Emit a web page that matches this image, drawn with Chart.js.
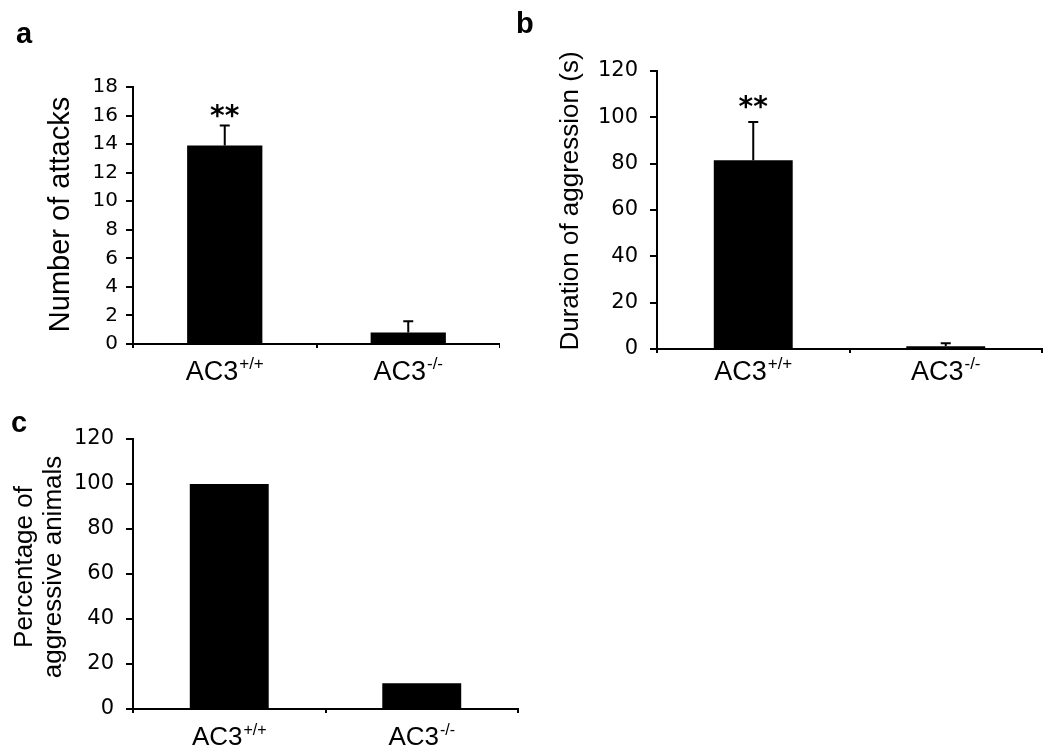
<!DOCTYPE html>
<html>
<head>
<meta charset="utf-8">
<script src="https://cdn.jsdelivr.net/npm/chart.js@4.4.0/dist/chart.umd.min.js"></script>
<style>
  body { margin: 0; background: #fff; }
  #wrap { position: relative; width: 1050px; height: 755px; }
  canvas { position: absolute; }
</style>
</head>
<body>
<div id="wrap">
  <canvas id="chartA" width="500" height="400" style="left:0;top:0;width:500px;height:400px"></canvas>
  <canvas id="chartB" width="550" height="400" style="left:500px;top:0;width:550px;height:400px"></canvas>
  <canvas id="chartC" width="530" height="355" style="left:0;top:400px;width:530px;height:355px"></canvas>
</div>
<script>
// genotypes on the x axis (base name + superscript)
const genotypeBase = ['AC3', 'AC3'];
const genotypeSup = ['+/+', '-/-'];

// panel a: number of attacks (mean, SEM)
const attacks = [13.9, 0.8];
const attacksErr = [1.4, 0.8];
// panel b: duration of aggression in seconds (mean, SEM)
const duration = [81.5, 1.2];
const durationErr = [16.5, 1.3];
// panel c: percentage of aggressive animals
const aggressivePct = [100, 11.5];

// significance marks above each bar
const sigA = ['**', ''];
const sigB = ['**', ''];

// y tick settings
const yTicksA = { max: 18, step: 2 };
const yTicksB = { max: 120, step: 20 };
const yTicksC = { max: 120, step: 20 };

// draws error bars, stars, x labels, axis title and the panel letter
const decorations = {
  id: 'decorations',
  afterDatasetsDraw(chart, args, opts) {
    const { ctx, chartArea } = chart;
    const x = chart.scales.x, y = chart.scales.y;
    const values = chart.data.datasets[0].data;
    ctx.save();
    ctx.fillStyle = '#000';
    ctx.strokeStyle = '#000';

    values.forEach((v, i) => {
      const cx = x.getPixelForValue(i);
      let topY = y.getPixelForValue(v);
      if (opts.errors) {
        const ey = y.getPixelForValue(v + opts.errors[i]);
        ctx.lineWidth = 2;
        ctx.beginPath();
        ctx.moveTo(cx, topY);
        ctx.lineTo(cx, ey);
        ctx.moveTo(cx - 5, ey);
        ctx.lineTo(cx + 5, ey);
        ctx.stroke();
        topY = ey;
      }
      if (opts.sig && opts.sig[i]) {
        ctx.font = 'bold 28px "DejaVu Sans"';
        ctx.textAlign = 'center';
        ctx.textBaseline = 'alphabetic';
        ctx.fillText(opts.sig[i], cx, topY - opts.sigGap + 16);
      }
      // x label with superscript
      const base = genotypeBase[i], sup = genotypeSup[i];
      const supSize = Math.round(opts.labelSize * 0.62);
      ctx.textAlign = 'left';
      ctx.textBaseline = 'alphabetic';
      ctx.font = opts.labelSize + 'px "Liberation Sans"';
      const wb = ctx.measureText(base).width;
      ctx.font = supSize + 'px "Liberation Sans"';
      const ws = ctx.measureText(sup).width;
      const lx = cx - (wb + ws + 1) / 2;
      const ly = chartArea.bottom + opts.labelDrop;
      ctx.font = opts.labelSize + 'px "Liberation Sans"';
      ctx.fillText(base, lx, ly);
      ctx.font = supSize + 'px "Liberation Sans"';
      ctx.fillText(sup, lx + wb + 1, ly - opts.labelSize * 0.4);
    });

    // y axis title (rotated, possibly two lines)
    const midY = (chartArea.top + chartArea.bottom) / 2 + opts.titleShiftY;
    ctx.font = opts.titleSize + 'px "Liberation Sans"';
    ctx.textAlign = 'center';
    ctx.textBaseline = 'middle';
    opts.title.forEach((line, k) => {
      ctx.save();
      ctx.translate(chartArea.left + opts.titleX[k], midY);
      ctx.rotate(-Math.PI / 2);
      ctx.fillText(line, 0, 0);
      ctx.restore();
    });

    // panel letter
    ctx.font = 'bold 29px "Liberation Sans"';
    ctx.textAlign = 'left';
    ctx.textBaseline = 'alphabetic';
    ctx.fillText(opts.letter, opts.letterPos[0], opts.letterPos[1]);
    ctx.restore();
  }
};

function makePanel(id, values, ticks, pad, tickSize, tickPad, deco) {
  return new Chart(document.getElementById(id), {
    type: 'bar',
    data: {
      labels: genotypeBase.map((b, i) => b + genotypeSup[i]),
      datasets: [{
        data: values,
        backgroundColor: '#000',
        borderWidth: 0,
        barPercentage: 0.41,
        categoryPercentage: 1
      }]
    },
    options: {
      responsive: false,
      animation: false,
      events: [],
      layout: { padding: pad },
      plugins: {
        legend: { display: false },
        tooltip: { enabled: false },
        decorations: deco
      },
      scales: {
        x: {
          afterFit: s => { s.height = 30; },
          ticks: { display: false },
          grid: { offset: true, drawOnChartArea: false, drawTicks: true, tickLength: 4, color: '#000', lineWidth: 2 },
          border: { display: true, color: '#000', width: 2 }
        },
        y: {
          min: 0,
          max: ticks.max,
          afterFit: s => { s.width = 60; },
          ticks: {
            stepSize: ticks.step,
            color: '#000',
            padding: tickPad,
            font: { family: '"DejaVu Sans"', size: tickSize }
          },
          grid: { drawOnChartArea: false, drawTicks: true, tickLength: 7, color: '#000', lineWidth: 2 },
          border: { display: true, color: '#000', width: 2 }
        }
      }
    },
    plugins: [decorations]
  });
}

makePanel('chartA', attacks, yTicksA,
  { left: 73, right: -7, top: 87, bottom: 26 }, 20, 8,
  { errors: attacksErr, sig: sigA, sigGap: 17, labelSize: 27, labelDrop: 36,
    title: ['Number of attacks'], titleX: [-72], titleShiftY: -1, titleSize: 29,
    letter: 'a', letterPos: [16, 43] });

makePanel('chartB', duration, yTicksB,
  { left: 97, right: 8, top: 71, bottom: 21 }, 21, 12,
  { errors: durationErr, sig: sigB, sigGap: 22, labelSize: 27, labelDrop: 31,
    title: ['Duration of aggression (s)'], titleX: [-86], titleShiftY: -9, titleSize: 26,
    letter: 'b', letterPos: [16, 33] });

makePanel('chartC', aggressivePct, yTicksC,
  { left: 73, right: 12, top: 39, bottom: 16 }, 21, 12,
  { errors: null, sig: null, sigGap: 0, labelSize: 26, labelDrop: 36,
    title: ['Percentage of', 'aggressive animals'], titleX: [-108, -79], titleShiftY: -7, titleSize: 26,
    letter: 'c', letterPos: [11, 32] });
</script>
</body>
</html>
